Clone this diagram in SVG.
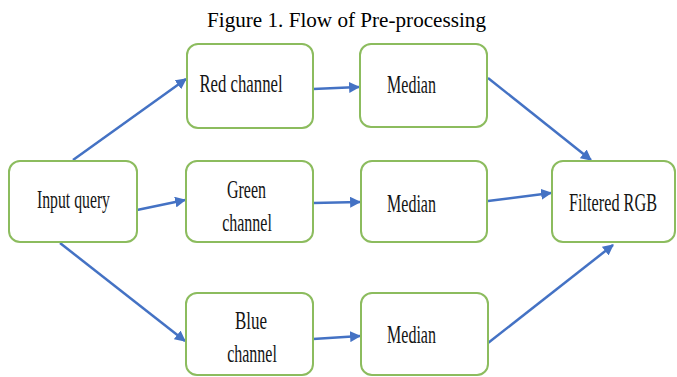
<svg xmlns="http://www.w3.org/2000/svg" width="677" height="377" viewBox="0 0 677 377">
  <style>
    .box { fill: #ffffff; stroke: #8cbc5e; stroke-width: 2; }
    .lbl { font-family: "Liberation Serif", "Times New Roman", serif; font-size: 25px; fill: #141414; text-anchor: middle; }
    .title { font-family: "Liberation Serif", "Times New Roman", serif; font-size: 21px; fill: #000000; }
    .conn { stroke: #4472c4; stroke-width: 2.5; fill: none; marker-end: url(#arrow); }
  </style>
  <defs>
    <marker id="arrow" viewBox="0 0 10 10" refX="9" refY="5" markerWidth="4.4" markerHeight="4.4" orient="auto" markerUnits="strokeWidth">
      <path d="M0,0 L10,5 L0,10 z" fill="#4472c4"/>
    </marker>
  </defs>
  <rect width="677" height="377" fill="#ffffff"/>

  <text class="title" x="207" y="27" textLength="279" lengthAdjust="spacingAndGlyphs">Figure 1. Flow of Pre-processing</text>

  <g id="connectors">
    <line class="conn" x1="73" y1="160" x2="186" y2="79"/>
    <line class="conn" x1="137" y1="210" x2="185" y2="200"/>
    <line class="conn" x1="60" y1="243" x2="185" y2="341"/>
    <line class="conn" x1="313" y1="89" x2="359" y2="87"/>
    <line class="conn" x1="313" y1="203" x2="360" y2="202"/>
    <line class="conn" x1="313" y1="339" x2="360" y2="336"/>
    <line class="conn" x1="488" y1="78" x2="591" y2="160"/>
    <line class="conn" x1="488" y1="201" x2="551" y2="193"/>
    <line class="conn" x1="488" y1="343" x2="613" y2="245"/>
  </g>

  <g id="input-query">
    <rect class="box" x="9" y="161" width="128" height="81" rx="11"/>
    <text class="lbl" transform="translate(73.5,208) scale(0.63,1)">Input query</text>
  </g>

  <g id="red-channel">
    <rect class="box" x="187" y="44" width="126" height="84" rx="11"/>
    <text class="lbl" transform="translate(241,92) scale(0.67,1)">Red channel</text>
  </g>

  <g id="green-channel">
    <rect class="box" x="186" y="161" width="127" height="81" rx="11"/>
    <text class="lbl" transform="translate(246.5,198) scale(0.64,1)">Green</text>
    <text class="lbl" transform="translate(247,231) scale(0.64,1)">channel</text>
  </g>

  <g id="blue-channel">
    <rect class="box" x="186" y="293" width="127" height="82" rx="11"/>
    <text class="lbl" transform="translate(251,329) scale(0.68,1)">Blue</text>
    <text class="lbl" transform="translate(252,362) scale(0.64,1)">channel</text>
  </g>

  <g id="median-red">
    <rect class="box" x="360" y="44" width="127" height="83" rx="11"/>
    <text class="lbl" transform="translate(411.5,93) scale(0.64,1)">Median</text>
  </g>

  <g id="median-green">
    <rect class="box" x="361" y="161" width="126" height="81" rx="11"/>
    <text class="lbl" transform="translate(411.5,212) scale(0.64,1)">Median</text>
  </g>

  <g id="median-blue">
    <rect class="box" x="361" y="293" width="127" height="82" rx="11"/>
    <text class="lbl" transform="translate(411.5,343) scale(0.64,1)">Median</text>
  </g>

  <g id="filtered-rgb">
    <rect class="box" x="552" y="161" width="123" height="81" rx="11"/>
    <text class="lbl" transform="translate(613,211) scale(0.65,1)">Filtered RGB</text>
  </g>
</svg>
